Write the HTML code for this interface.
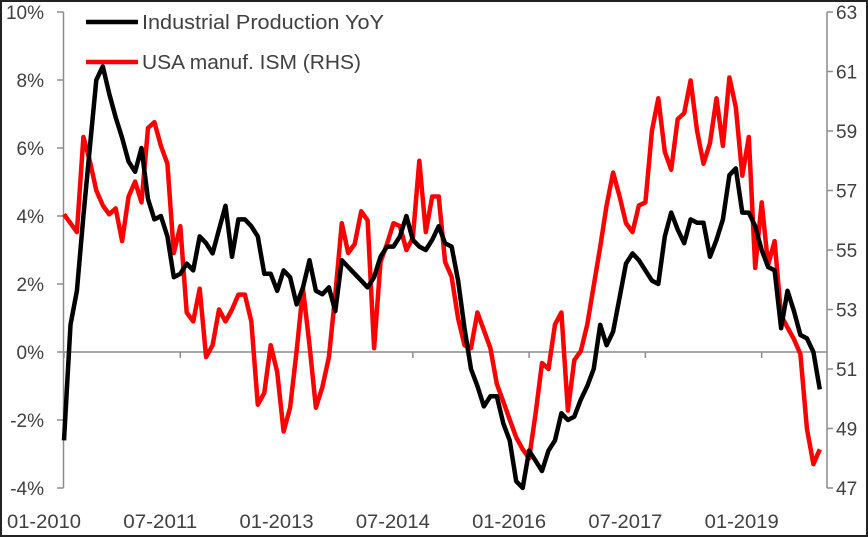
<!DOCTYPE html>
<html><head><meta charset="utf-8"><style>
body{margin:0;background:#fff;}
svg{display:block;font-family:"Liberation Sans",sans-serif;}
</style></head><body>
<svg id="chart" width="868" height="537" viewBox="0 0 868 537" xmlns="http://www.w3.org/2000/svg">
<rect x="1" y="1" width="866" height="535" fill="#fff" stroke="#222" stroke-width="2"/>
<g id="axes"></g><g id="series"></g>
<g>
<line x1="86" y1="22" x2="138" y2="22" stroke="#000" stroke-width="4.5"/>
<text x="142" y="29" font-size="20" textLength="242" lengthAdjust="spacingAndGlyphs" fill="#404040">Industrial Production YoY</text>
<line x1="86" y1="62" x2="138" y2="62" stroke="#f00" stroke-width="4.5"/>
<text x="142" y="69" font-size="20" textLength="219" lengthAdjust="spacingAndGlyphs" fill="#404040">USA manuf. ISM (RHS)</text>
</g>
</svg>
<script>
const ipYoY=[-2.6,0.8,1.8,4.0,6.0,8.0,8.4,7.6,6.9,6.3,5.6,5.3,6.0,4.5,3.9,4.0,3.4,2.2,2.3,2.6,2.4,3.4,3.2,2.9,3.6,4.3,2.8,3.9,3.9,3.7,3.4,2.3,2.3,1.8,2.4,2.2,1.4,1.9,2.7,1.8,1.7,1.9,1.2,2.7,2.5,2.3,2.1,1.9,2.2,2.8,3.1,3.1,3.4,4.0,3.3,3.1,3.0,3.3,3.7,3.2,3.1,2.1,0.7,-0.5,-1.0,-1.6,-1.3,-1.3,-2.1,-2.6,-3.8,-4.0,-2.9,-3.2,-3.5,-2.9,-2.6,-1.8,-2.0,-1.9,-1.4,-1.0,-0.5,0.8,0.2,0.6,1.6,2.6,2.9,2.7,2.4,2.1,2.0,3.4,4.1,3.6,3.2,3.9,3.8,3.8,2.8,3.3,3.9,5.2,5.4,4.1,4.1,3.7,3.0,2.5,2.4,0.7,1.8,1.2,0.5,0.4,0.0,-1.1];
const ism=[56.2,55.9,55.6,58.8,58.0,57.0,56.5,56.2,56.4,55.3,56.8,57.3,56.6,59.1,59.3,58.5,57.9,54.9,55.8,52.9,52.6,53.7,51.4,51.8,53.0,52.6,53.0,53.5,53.5,52.6,49.8,50.2,51.8,50.9,48.9,49.7,51.6,53.7,51.8,49.7,50.4,51.4,53.5,55.9,54.9,55.2,56.3,56.0,51.7,54.6,55.2,55.9,55.8,55.0,55.4,58.0,55.6,56.8,56.8,54.6,54.1,52.7,51.8,51.7,52.9,52.3,51.7,50.5,49.9,49.3,48.7,48.3,48.0,49.5,51.2,51.0,52.5,52.9,49.6,51.3,51.6,52.5,53.8,55.1,56.5,57.6,56.8,55.9,55.6,56.5,56.6,59.0,60.1,58.3,57.7,59.4,59.6,60.7,59.0,57.9,58.6,60.1,58.5,60.8,59.8,57.5,58.8,54.4,56.6,54.5,55.3,52.8,52.4,52.0,51.5,49.0,47.8,48.3];
const leftTicks=[10,8,6,4,2,0,-2,-4];
const leftTickLabels=["10%","8%","6%","4%","2%","0%","-2%","-4%"];
const rightTicks=[63,61,59,57,55,53,51,49,47];
const xTickMonths=[0,18,36,54,72,90,108];
const xTickLabels=["01-2010","07-2011","01-2013","07-2014","01-2016","07-2017","01-2019"];

const NS="http://www.w3.org/2000/svg";
const X=m=>64+6.46*m;
const YL=p=>352-34*p;
const YR=v=>488-(v-47)*29.75;
function mk(tag,attrs,parent){const e=document.createElementNS(NS,tag);for(const k in attrs)e.setAttribute(k,attrs[k]);parent.appendChild(e);return e;}
const axes=document.getElementById('axes'),series=document.getElementById('series');
const g="#8c8c8c";
let e=mk('line',{x1:63.5,y1:YL(10),x2:63.5,y2:YL(-4),stroke:g,'stroke-width':1.5},axes);


e=mk('line',{x1:827,y1:YR(63),x2:827,y2:YR(47),stroke:g,'stroke-width':1.5},axes);


e=mk('line',{x1:63.5,y1:YL(0),x2:827,y2:YL(0),stroke:g,'stroke-width':1.5},axes);


leftTicks.forEach((t,i)=>{
 mk('line',{x1:57,y1:YL(t),x2:63.5,y2:YL(t),stroke:g,'stroke-width':1.5},axes);
 const tx=mk('text',{x:44,y:YL(t)+7,'font-size':19,fill:'#404040','text-anchor':'end'},axes);
 tx.textContent=leftTickLabels[i];
 
 
});
rightTicks.forEach(t=>{
 mk('line',{x1:827,y1:YR(t),x2:833,y2:YR(t),stroke:g,'stroke-width':1.5},axes);
 const tx=mk('text',{x:836,y:YR(t)+7,'font-size':19,fill:'#404040'},axes);
 tx.textContent=String(t);
 
 
});
xTickMonths.forEach((m,i)=>{
 mk('line',{x1:X(m),y1:YL(0),x2:X(m),y2:YL(0)+6,stroke:g,'stroke-width':1.5},axes);
 const tx=mk('text',{x:X(m)-20,y:528,'font-size':19,fill:'#404040','text-anchor':'middle',textLength:74,lengthAdjust:'spacingAndGlyphs'},axes);
 tx.textContent=xTickLabels[i];
 
 
});
const pr=ism.map((v,i)=>X(i).toFixed(1)+','+YR(v).toFixed(1)).join(' ');
e=mk('polyline',{points:pr,fill:'none',stroke:'#f00','stroke-width':4.5,'stroke-linejoin':'round'},series);


const pb=ipYoY.map((v,i)=>X(i).toFixed(1)+','+YL(v).toFixed(1)).join(' ');
e=mk('polyline',{points:pb,fill:'none',stroke:'#000','stroke-width':4.5,'stroke-linejoin':'round'},series);


</script>
</body></html>
